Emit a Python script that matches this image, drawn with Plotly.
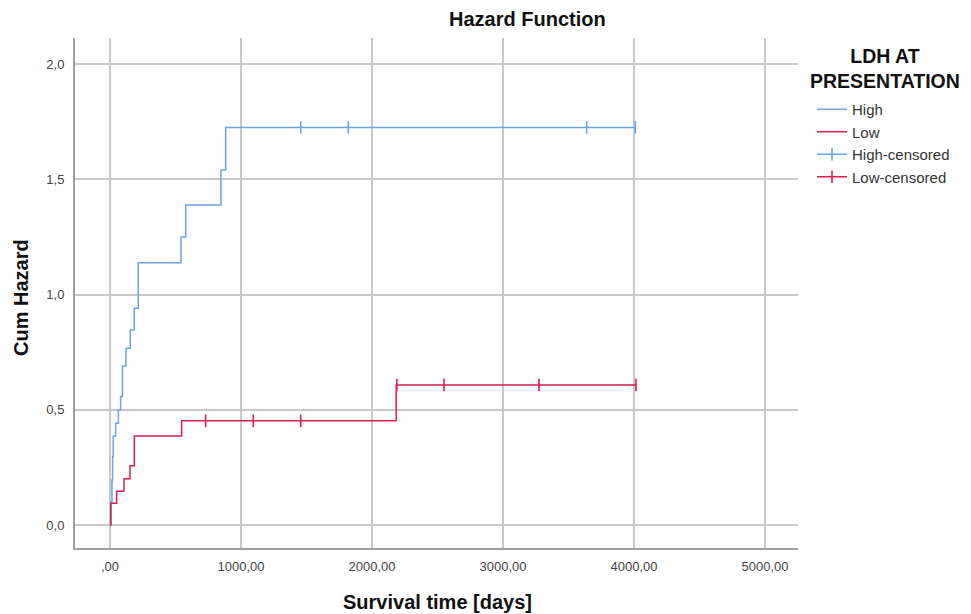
import numpy as np
import plotly.graph_objects as go

# ---- data ----
high_time = [0, 8, 15, 20, 25, 43, 64, 81, 95, 122, 155, 185, 216, 542, 578, 847, 883, 4010]
high_hazard = [0, 0.10, 0.195, 0.296, 0.386, 0.441, 0.499, 0.557, 0.69, 0.767, 0.846, 0.94, 1.138, 1.25, 1.388, 1.54, 1.725, 1.725]

low_time = [0, 6, 51, 107, 153, 186, 547, 2185, 4015]
low_hazard = [0, 0.094, 0.146, 0.2, 0.257, 0.386, 0.452, 0.607, 0.607]

high_censored_time = [1456, 1819, 3639, 4010]
low_censored_time = [730, 1094, 1456, 2190, 2550, 3275, 4015]

x_tick_vals = [0, 1000, 2000, 3000, 4000, 5000]
x_tick_text = [",00", "1000,00", "2000,00", "3000,00", "4000,00", "5000,00"]
y_tick_vals = [0.0, 0.5, 1.0, 1.5, 2.0]
y_tick_text = ["0,0", "0,5", "1,0", "1,5", "2,0"]

BLUE = "#6aa2e4"
RED = "#d81e4c"
FONT = "Liberation Sans, Arial, sans-serif"


def step_value(times, values, t):
    i = np.searchsorted(np.array(times), t, side="right") - 1
    return values[max(i, 0)]


def gapped(xs, ys):
    gx, gy = [], []
    for a, b in zip(xs, ys):
        gx += [a, None]
        gy += [b, None]
    return gx, gy


hc_y = [step_value(high_time, high_hazard, t) for t in high_censored_time]
lc_y = [step_value(low_time, low_hazard, t) for t in low_censored_time]
hcx, hcy = gapped(high_censored_time, hc_y)
lcx, lcy = gapped(low_censored_time, lc_y)

fig = go.Figure()
fig.add_trace(go.Scatter(x=high_time, y=high_hazard, mode="lines", name="High",
                         line=dict(color=BLUE, width=1.5, shape="hv")))
fig.add_trace(go.Scatter(x=low_time, y=low_hazard, mode="lines", name="Low",
                         line=dict(color=RED, width=1.5, shape="hv")))
fig.add_trace(go.Scatter(x=hcx, y=hcy, mode="lines+markers", name="High-censored",
                         line=dict(color=BLUE, width=1.5), connectgaps=False,
                         marker=dict(symbol="line-ns", size=9,
                                     line=dict(color=BLUE, width=1.6))))
fig.add_trace(go.Scatter(x=lcx, y=lcy, mode="lines+markers", name="Low-censored",
                         line=dict(color=RED, width=1.5), connectgaps=False,
                         marker=dict(symbol="line-ns", size=9,
                                     line=dict(color=RED, width=1.6))))

OFF = 8  # page body margin in the browser
W, H = 971 - OFF, 614 - OFF
L, R, T, B = 75 - OFF, 798 - OFF, 38 - OFF, 548 - OFF
pw, ph = R - L, B - T


def px(x):
    return (x - OFF - L) / pw


def py(y):
    return (B - (y - OFF)) / ph


fig.update_layout(
    width=W, height=H,
    margin=dict(l=L, r=W - R, t=T, b=H - B, autoexpand=False),
    paper_bgcolor="white", plot_bgcolor="white",
    font=dict(family=FONT, color="#333333", size=12),
    showlegend=True,
    legend=dict(x=px(812), y=py(93), xanchor="left", yanchor="top",
                font=dict(family=FONT, size=15, color="#333333"),
                itemwidth=30, tracegroupgap=0, bgcolor="rgba(0,0,0,0)"),
    xaxis=dict(range=[-267, 5252], tickvals=x_tick_vals, ticktext=x_tick_text,
               showgrid=True, gridcolor="#c8c8c8", gridwidth=1.5,
               showline=True, linecolor="#a0a0a0", linewidth=2,
               zeroline=False, ticks="outside", ticklen=5,
               tickcolor="rgba(0,0,0,0)", tickfont=dict(size=13, color="#444444")),
    yaxis=dict(range=[-0.1, 2.113], tickvals=y_tick_vals, ticktext=y_tick_text,
               showgrid=True, gridcolor="#c8c8c8", gridwidth=1.5,
               showline=True, linecolor="#a0a0a0", linewidth=2,
               zeroline=False, ticks="outside", ticklen=6,
               tickcolor="rgba(0,0,0,0)", tickfont=dict(size=13, color="#444444")),
    annotations=[
        dict(text="<b>Hazard Function</b>", xref="paper", yref="paper",
             x=px(447), y=py(19), xanchor="left", yanchor="middle",
             showarrow=False, font=dict(family=FONT, size=20, color="#111111")),
        dict(text="<b>Cum Hazard</b>", xref="paper", yref="paper",
             x=px(21), y=py(298), xanchor="center", yanchor="middle",
             textangle=-90, showarrow=False,
             font=dict(family=FONT, size=20, color="#111111")),
        dict(text="<b>Survival time [days]</b>", xref="paper", yref="paper",
             x=px(437), y=py(602), xanchor="center", yanchor="middle",
             showarrow=False, font=dict(family=FONT, size=20, color="#111111")),
        dict(text="<b>LDH AT<br>PRESENTATION</b>", xref="paper", yref="paper",
             x=px(885), y=py(68), xanchor="center", yanchor="middle",
             align="center", showarrow=False,
             font=dict(family=FONT, size=19.5, color="#111111")),
    ],
)

fig.write_html("out.html")
